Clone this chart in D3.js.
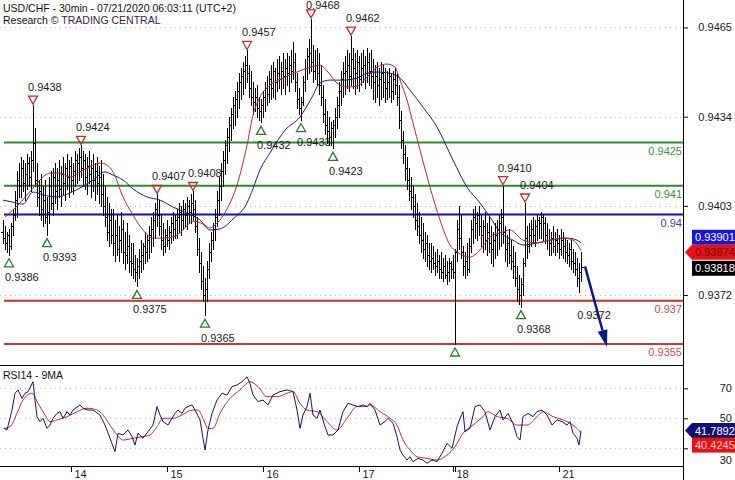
<!DOCTYPE html>
<html><head><meta charset="utf-8">
<script src="https://cdn.jsdelivr.net/npm/d3@7/dist/d3.min.js"></script>
<style>
body{margin:0;background:#fff;}
svg{display:block;font-family:"Liberation Sans",Arial,sans-serif;}
</style></head><body>
<svg id="c" width="735" height="480"></svg>
<script>
// ---------- DATA (prices in pips: 9394 = 0.9394) ----------
const firstOpen = 9394;
const barHigh = [9398,9396,9394,9395,9397, 9402,9408,9415,9418, 9420,9419,9418,9421,9420,9422, 9438,9430,9418,9412,
 9414,9410,9412,9406,9413,9415,9416, 9418,9416,9419,9417,9420,9418,9421,9419,9420,9418,9422,9421,9423, 9424,
 9422,9421,9420,9422,9419,9421,9418,9420,9417,9419, 9414,9410,9406,9404,9402, 9402,9398,9400,9396,9401,9398,9394,9397,9393,9390,
 9390,9386,9385,9388,9391,9390,9394,9393, 9396,9399,9401,9404,9407,9405, 9400,9397,9395,9398,9396,9399,9401,9400,
 9402,9404,9403,9405,9404,9406,9405,9407,9408,9405, 9399,9392,9387,9382,9378,9384,
 9390,9394,9397,9402,9408,9413,9418,9422,9426,9430,9434,9437,9441, 9443,9446,9449,9451,9453,9455,9457,9452,
 9450,9446,9444,9445,9441,9440, 9443,9446,9448,9450,9452,9453,9451,9454,9455,9453,9456,9454,9456,9455,9457,9460,9456,
 9449,9444,9441, 9448,9454,9458,9461,9468, 9459,9457,9458,9456,9452, 9445,9440,9436,9434,9432,9433, 9437,9441,9446,9450,9453,
 9455,9457,9456,9462,9458,9456,9457,9455, 9456,9457,9455,9458,9456,9457, 9454,9452,9453,9451,9453,9452,9451,
 9450,9451,9449,9450,9451,9449, 9445,9436,9429, 9424,9420,9416,9413,9410,9407,9404,9401, 9399,9397,9394,9393,9390,
 9390,9389,9387,9388,9386, 9387,9385,9386,9384,9385,9384, 9386, 9388, 9398,9403,9400, 9389,9387,9390,9392,
 9398,9402,9403,9401,9403, 9400,9398,9401,9397,9399, 9396,9394,9397,9398,9400,9402,9410, 9396,9393,9395,9391,9389,9387,
 9382,9379,9378,9385, 9404,9396, 9397,9398,9399,9398,9400,9399, 9401,9400,9399,9397,
 9395,9394,9396,9394,9395,9393,9395,9394,9392, 9391,9390,9391,9388,9387, 9385,9383,9387];
const barLow = [9390,9388,9387,9386,9388, 9393,9398,9399,9406, 9406,9408,9405,9409,9410,9408, 9415,9410,9403,9400,
 9398,9396,9397,9393,9397,9402,9400, 9404,9402,9406,9403,9407,9405,9409,9406,9408,9407,9410,9411,9412, 9413,
 9410,9409,9407,9411,9406,9408,9405,9407,9404,9403, 9400,9396,9391,9389,9390, 9386,9384,9386,9384,9387,9383,9381,9383,9380,9379,
 9378,9377,9375,9378,9380,9381,9383,9384, 9385,9387,9389,9392,9396,9393, 9388,9386,9387,9389,9388,9390,9391,9392,
 9392,9394,9393,9395,9396,9395,9397,9397,9398,9394, 9386,9380,9374,9370,9365,9370,
 9378,9384,9388,9391,9396,9400,9405,9410,9414,9418,9422,9426,9430, 9431,9434,9437,9440,9442,9444,9446,9441,
 9438,9435,9436,9434,9433,9432, 9434,9436,9438,9439,9440,9441,9440,9443,9444,9442,9444,9442,9445,9443,9446,9447,9443,
 9437,9435,9433, 9438,9443,9447,9449,9450, 9446,9447,9445,9442,9438, 9432,9428,9425,9424,9424,9423, 9427,9430,9434,9438,9441,
 9442,9444,9443,9445,9444,9442,9444,9443, 9445,9446,9444,9446,9445,9444, 9440,9439,9441,9438,9440,9441,9439,
 9440,9441,9439,9440,9442,9438, 9430,9423,9418, 9412,9409,9405,9402,9399,9395,9393,9390, 9387,9385,9384,9382,9381,
 9380,9381,9379,9380,9378, 9378,9377,9378,9376,9377,9378, 9378, 9355, 9384,9388,9385, 9379,9378,9379,9380,
 9387,9390,9392,9391,9393, 9389,9387,9388,9386,9387, 9383,9382,9385,9386,9388,9389,9390, 9384,9382,9383,9381,9378,9375,
 9370,9369,9368,9372, 9382,9385, 9387,9389,9390,9389,9391,9392, 9392,9391,9390,9388,
 9386,9386,9387,9386,9387,9385,9386,9385,9384, 9383,9382,9381,9380,9379, 9375,9373,9377];
const barClose = [9392,9390,9393,9389,9396, 9400,9405,9412,9410, 9416,9411,9414,9418,9413,9419, 9425,9412,9406,9408,
 9402,9405,9399,9401,9410,9404,9413, 9408,9412,9409,9414,9411,9416,9413,9417,9412,9415,9419,9418,9420, 9416,
 9419,9413,9417,9414,9416,9412,9415,9411,9413,9407, 9403,9399,9394,9398,9393, 9390,9393,9388,9391,9395,9387,9386,9389,9384,9383,
 9381,9380,9382,9384,9386,9389,9387,9391, 9393,9395,9398,9402,9400,9396, 9391,9389,9393,9391,9394,9397,9395,9398,
 9399,9401,9398,9402,9400,9403,9401,9404,9402,9396, 9388,9383,9377,9372,9374,9381,
 9387,9391,9395,9399,9405,9410,9415,9419,9424,9427,9431,9435,9438, 9440,9443,9446,9448,9450,9452,9449,9444,
 9441,9439,9441,9437,9436,9438, 9441,9444,9442,9447,9444,9450,9446,9449,9447,9450,9448,9451,9449,9452,9450,9453,9446,
 9440,9437,9439, 9446,9451,9455,9456,9453, 9450,9452,9449,9445,9441, 9435,9431,9429,9427,9430,9431, 9434,9438,9443,9447,9449,
 9450,9452,9448,9454,9451,9449,9453,9447, 9451,9452,9449,9453,9450,9448, 9446,9448,9445,9447,9449,9446,9444,
 9446,9448,9443,9447,9445,9441, 9433,9426,9421, 9416,9412,9408,9406,9403,9398,9396,9393, 9391,9388,9390,9386,9384,
 9385,9383,9382,9384,9381, 9380,9382,9379,9380,9383,9381, 9380, 9387, 9395,9392,9387, 9382,9384,9381,9389,
 9395,9399,9397,9400,9396, 9393,9396,9391,9394,9390, 9388,9391,9393,9395,9397,9399,9394, 9388,9390,9386,9384,9382,9378,
 9374,9372,9376,9383, 9392,9389, 9393,9395,9393,9396,9398,9397, 9399,9397,9393,9391,
 9390,9392,9389,9391,9390,9388,9391,9389,9387, 9386,9388,9384,9383,9381, 9378,9380,9381.8];

// moving averages on price: [bar index, pips]
const maFast = [[1,9399.1],[8.5,9404.0],[15,9409.2],[18.5,9412.0],[23.5,9414.4],[28.5,9414.4],[33.5,9413.0],[38.5,9414.8],[43.5,9416.5],[48.5,9417.9],
 [52,9417.2],[55,9414.8],[60,9406.1],[65,9399.8],[70,9394.6],[75,9391.8],[80,9391.8],[85,9392.2],[90,9394.6],[95,9397.7],
 [100,9396.7],[103.5,9395.3],[107,9397.0],[112,9401.9],[117,9410.2],[122,9424.1],[125,9434.5],[128.5,9440.8],[133.5,9445.0],[140,9447.4],
 [147,9449.5],[153.5,9451.2],[158.5,9451.9],[162.5,9449.5],[167,9445.7],[172,9444.3],[177,9444.6],[182,9447.7],[187,9451.2],[192,9452.3],
 [196,9451.2],[198.5,9446.7],[202,9439.8],[205,9431.8],[208.5,9422.4],[213.5,9409.5],[218.5,9398.1],[223.5,9389.4],[227,9387.0],[233.5,9385.2],
 [238.5,9387.7],[243.5,9392.2],[248.5,9393.6],[253.5,9394.6],[260,9391.1],[267,9390.1],[273.5,9391.1],[280,9391.8],[285,9391.1],[289,9387.4]];
const maSlow = [[0,9405.0],[5,9404.3],[10,9403.6],[15,9407.8],[20,9406.8],[27,9406.1],[33.5,9407.5],[38.5,9409.2],[45,9412.0],[51,9414.8],
 [55,9413.7],[60,9412.0],[65,9408.9],[72,9406.1],[78.5,9405.0],[85,9402.6],[92,9400.5],[98.5,9398.1],[103.5,9394.6],[108.5,9395.0],
 [115,9398.4],[122,9404.0],[125,9409.0],[128.5,9415.5],[133.5,9421.4],[141,9429.3],[148.5,9433.9],[154.5,9440.8],[158.5,9445.7],[163.5,9446.7],[170,9446.7],
 [177,9447.4],[182,9449.1],[187,9449.5],[193.5,9449.1],[198.5,9447.4],[203.5,9443.2],[210,9437.3],[217,9430.4],[225,9418.9],[232,9409.5],
 [238.5,9404.0],[243.5,9399.1],[248.5,9393.9],[255,9391.1],[260,9389.4],[267,9390.1],[273.5,9391.1],[282,9391.8],[287,9391.1],[289,9390.1]];

// RSI14 and its 9MA: [bar index, value]
const rsi = [[0.5,43.3],[2,42.2],[4.5,55.5],[6,66.7],[7.5,68.9],[9.5,63.3],[11,66.7],[12.5,67.8],[15,74.4],[16,62],[17,51],[18.5,47.8],[20,50],
 [22,43.3],[23.5,45.5],[25,50],[27,53.3],[28.5,54.4],[30,50],[32,54.4],[33.5,52.2],[35,55.5],[38.5,58.9],[40,56.7],[42.5,55.5],[45,55.5],
 [48.5,52.2],[51,45.5],[53.5,36.7],[56,27.8],[57.5,40],[60,38.9],[62.5,42.2],[64.5,37.8],[66,32.2],[67.5,40],[70,36.7],[72.5,41.1],[75,45.5],
 [77,57.8],[78.5,52.2],[80,47.8],[82.5,45.5],[84.5,50],[86,53.3],[87.5,55.5],[89.5,53.3],[91,56.7],[92.5,57.8],[94.5,58.9],[96,55.5],
 [98.5,48.9],[100,36.7],[101,28.9],[102.5,42.2],[104.5,53.3],[107,62.2],[109.5,66.7],[112,65.5],[114.5,71.1],[117,72.2],[119.5,74.4],
 [122,77.7],[123.5,73.3],[125,65.5],[127.5,61.1],[130,62.2],[132.5,58.9],[135,65.5],[138.5,67.8],[142,68.9],[145,67.8],[147,55.5],
 [148.5,43.3],[150,52.2],[152,57.8],[153.5,66.7],[155,52.2],[157,50],[158.5,55.5],[161,44.4],[162.5,38.9],[165,38.9],[167.5,42.2],
 [170,54.4],[172.5,60],[175,58.9],[177.5,57.8],[180,58.9],[182,57.8],[183.5,60],[186,55.5],[188.5,45.5],[191,47.8],[192.5,50],[195,46.7],
 [197,37.8],[198.5,28.9],[200,25.5],[202,22.2],[203.5,24.4],[205,21.1],[207.5,23.3],[210,22.2],[212,20],[214.5,22.2],[217,21.1],
 [219.5,26.7],[222,33.3],[224.5,30],[227,44.4],[228.5,50],[230,54.4],[231,41.1],[233.5,43.3],[236,57.8],[238.5,58.9],[241,54.4],
 [243.5,42.2],[246,51.1],[248.5,55.5],[250,48.9],[252.5,53.3],[255,46.7],[257,37.8],[258.5,35.5],[260,51.1],[262.5,53.3],[265,51.1],
 [267,54.4],[269.5,55.5],[272,52.2],[274.5,45.5],[277,48.9],[279.5,47.8],[282,45.5],[283.5,47.8],[285,40],[287,36.7],[288,32.2],[289,41.8]];
const rsiMa = [[0.5,43.3],[3.5,44.4],[7,53.3],[10,62.2],[14.5,66.7],[17.5,60],[21,52.2],[23.5,47.8],[27,48.9],[32,51.1],[37,54.4],[42,56.7],
 [47,55.5],[50,52.2],[53.5,45.5],[57,38.9],[60,35.5],[65,36.7],[70,37.8],[73.5,38.9],[77,44.4],[80,50],[85,50],[89.5,52.2],[94.5,55.5],
 [97.5,55.5],[100,50],[102.5,43.3],[105,43.3],[108.5,53.3],[113.5,63.3],[118.5,68.9],[123.5,74.4],[127.5,71.1],[132,64.4],[137,64.4],
 [142,66.7],[145,67.8],[148.5,60],[152,55.5],[157,54.4],[162,47.8],[167,42.2],[172,50],[177,57.8],[182,57.8],[183.5,58.9],[188.5,54.4],
 [193.5,50],[197,45.5],[200,35.5],[203.5,28.9],[207,24.4],[212,23.3],[217,22.2],[222,25.5],[226,31.1],[230,40],[235,45.5],[240,51.1],
 [242.5,54.4],[247,51.1],[252,50],[257,45.5],[262,45.5],[267,51.1],[270,54.4],[275,51.1],[280,48.9],[285,45.5],[289,40.4]];

const dayTickIdx = [34,82,130,178,225,278];
const dayTickLabels = ["14","15","16","17","18","21"];
const extraTickIdx = [226];
const priceTicks = [0.9465,0.9434,0.9403,0.9372];
const rsiTicks = [70,50,30];
const levels = [0.9425,0.941,0.94,0.937,0.9355];
const levelLabels = ["0.9425","0.941","0.94","0.937","0.9355"];
const highMarks = [[15,0.9438,"0.9438"],[39,0.9424,"0.9424"],[77,0.9407,"0.9407"],[95,0.9408,"0.9408"],[122,0.9457,"0.9457"],
 [154,0.9468,"0.9468"],[174,0.9462,"0.9462"],[250,0.9410,"0.9410"],[261,0.9404,"0.9404"]];
const lowMarks = [[3,0.9386,"0.9386"],[22,0.9393,"0.9393"],[67,0.9375,"0.9375"],[101,0.9365,"0.9365"],[129,0.9432,"0.9432"],
 [149,0.9433,"0.9433"],[165,0.9423,"0.9423"],[226,0.9355,""],[259,0.9368,"0.9368"]];
const arrowFrom = [291,0.9382], arrowTo = [302,0.9354];
const arrowLabel = [295.5,0.9372,"0.9372"];
const lastValues = {maSlow:"0.93901", maFast:"0.93874", close:"0.93818", rsi:"41.7892", rsiMa:"40.4245"};
const rsiLast = [41.7892, 40.4245];
const maFastLast = 0.93874;

// ---------- STYLES ----------
const levelStroke = ["#2c8c2c","#2c8c2c","#1212a6","#d02a2a","#bf3a3a"];
const levelText = ["#3e8e3e","#3e8e3e","#3a3ac4","#d04848","#c85050"];

// ---------- DRAW ----------
const svg = d3.select("#c");
const axisX = 683;
const x = d3.scaleLinear().domain([0,289]).range([3,581]);
const y = d3.scaleLinear().domain([0.9355,0.94]).range([344,214.5]);
const yR = d3.scaleLinear().domain([30,70]).range([448.3,388.3]);
const P = v => v/10000;

const defs = svg.append("defs");
defs.append("clipPath").attr("id","mc").append("rect").attr("x",0).attr("y",0).attr("width",axisX).attr("height",365);
defs.append("clipPath").attr("id","rc").append("rect").attr("x",0).attr("y",366).attr("width",axisX).attr("height",100);

const main = svg.append("g").attr("clip-path","url(#mc)");
// dotted grid
main.selectAll(".g").data(priceTicks).join("line")
  .attr("x1",0).attr("x2",axisX).attr("y1",d=>Math.round(y(d))+0.5).attr("y2",d=>Math.round(y(d))+0.5)
  .attr("stroke","#b8b8b8").attr("stroke-dasharray","1,4");

// levels
main.selectAll(".lv").data(levels).join("line")
  .attr("x1",4).attr("x2",axisX).attr("y1",d=>y(d)).attr("y2",d=>y(d))
  .attr("stroke",(d,i)=>levelStroke[i]).attr("stroke-width",2);
main.selectAll(".lvt").data(levels).join("text")
  .attr("x",axisX-1).attr("y",d=>y(d)+12).attr("text-anchor","end")
  .attr("font-size",11).attr("fill",(d,i)=>levelText[i]).text((d,i)=>levelLabels[i]);

// markers
const mk = main.append("g");
highMarks.forEach(([i,v,t])=>{
  const cx=x(i), yh=y(v);
  mk.append("path").attr("d",`M${cx-4.5},${yh-9}H${cx+4.5}L${cx},${yh-1}Z`)
    .attr("fill","none").attr("stroke","#b8312c").attr("stroke-width",1.3);
  mk.append("text").attr("x",cx-5).attr("y",Math.max(yh-14,9)).attr("font-size",11).attr("fill","#1a1a1a").text(t);
});
lowMarks.forEach(([i,v,t])=>{
  const cx=x(i), yl=y(v);
  mk.append("path").attr("d",`M${cx},${yl+4}L${cx+4.5},${yl+12}H${cx-4.5}Z`)
    .attr("fill","none").attr("stroke","#2a7c2a").attr("stroke-width",1.3);
  if(t) mk.append("text").attr("x",cx-4).attr("y",yl+26.5).attr("font-size",11).attr("fill","#1a1a1a").text(t);
});

// OHLC bars
const bars = barClose.map((c,i)=>({i,o:i?barClose[i-1]:firstOpen,h:barHigh[i],l:barLow[i],c}));
main.append("path").attr("fill","none").attr("stroke","#000").attr("shape-rendering","crispEdges")
  .attr("d",bars.map(b=>{
    const X=Math.round(x(b.i)), yh=Math.round(y(P(b.h))), yl=Math.round(y(P(b.l))),
          yo=Math.round(y(P(b.o))), yc=Math.round(y(P(b.c)));
    return `M${X+0.5},${yh}V${yl+1}M${X-2},${yo+0.5}H${X+1}M${X},${yc+0.5}H${X+3}`;
  }).join(""));

// moving averages
const maLine = d3.line().x(d=>x(d[0])).y(d=>y(P(d[1]))).curve(d3.curveMonotoneX);
main.append("path").datum(maSlow).attr("d",maLine).attr("fill","none").attr("stroke","#1c1c86").attr("stroke-width",1);
main.append("path").datum(maFast).attr("d",maLine).attr("fill","none").attr("stroke","#b42a2a").attr("stroke-width",1);

// forecast arrow
{
  const x1=x(arrowFrom[0]), y1=y(arrowFrom[1]), x2=x(arrowTo[0]), y2=y(arrowTo[1]);
  const ang=Math.atan2(y2-y1,x2-x1), L=17, Wd=5;
  const bx=x2-L*Math.cos(ang), by=y2-L*Math.sin(ang);
  main.append("line").attr("x1",x1).attr("y1",y1).attr("x2",bx).attr("y2",by)
    .attr("stroke","#0c1a82").attr("stroke-width",2.5);
  main.append("path").attr("fill","#0c1a82")
    .attr("d",`M${x2},${y2}L${bx+Wd*Math.sin(ang)},${by-Wd*Math.cos(ang)}L${bx-Wd*Math.sin(ang)},${by+Wd*Math.cos(ang)}Z`);
  main.append("text").attr("x",x(arrowLabel[0])).attr("y",y(arrowLabel[1])+24).attr("text-anchor","middle")
    .attr("font-size",11).attr("fill","#1a1a1a").text(arrowLabel[2]);
}

// title
svg.append("text").attr("x",3).attr("y",12).attr("font-size",10.5).attr("fill","#111")
  .text("USD/CHF - 30min - 07/21/2020 06:03:11 (UTC+2)");
const t2 = svg.append("text").attr("x",3).attr("y",24).attr("font-size",10.5).attr("fill","#111");
t2.append("tspan").text("Research © ");
t2.append("tspan").attr("fill","#3a2448").text("TRADING CENTRAL");

// RSI panel
const rp = svg.append("g").attr("clip-path","url(#rc)");
rp.selectAll(".rg").data(rsiTicks).join("line")
  .attr("x1",0).attr("x2",axisX).attr("y1",d=>Math.round(yR(d))+0.5).attr("y2",d=>Math.round(yR(d))+0.5)
  .attr("stroke","#b8b8b8").attr("stroke-dasharray","1,4");
rp.append("path").datum(rsiMa).attr("d",d3.line().x(d=>x(d[0])).y(d=>yR(d[1])).curve(d3.curveMonotoneX))
  .attr("fill","none").attr("stroke","#b83030").attr("stroke-width",1);
rp.append("path").datum(rsi).attr("d",d3.line().x(d=>x(d[0])).y(d=>yR(d[1])))
  .attr("fill","none").attr("stroke","#141464").attr("stroke-width",1);
svg.append("text").attr("x",3).attr("y",379).attr("font-size",10.5).attr("fill","#111").text("RSI14 - 9MA");

// frames
svg.append("line").attr("x1",0).attr("x2",axisX).attr("y1",365.5).attr("y2",365.5).attr("stroke","#000");
svg.append("line").attr("x1",0).attr("x2",axisX).attr("y1",466.5).attr("y2",466.5).attr("stroke","#000");
svg.append("line").attr("x1",axisX+0.5).attr("x2",axisX+0.5).attr("y1",0).attr("y2",480).attr("stroke","#000");

// right price axis
const pa = svg.append("g").attr("transform",`translate(${axisX},0)`)
  .call(d3.axisRight(y).tickValues(priceTicks).tickSize(5).tickFormat(d3.format(".4f")));
pa.select(".domain").remove();
pa.selectAll("text").attr("x",49).attr("text-anchor","end").attr("font-size",11).attr("fill","#1a1a1a").attr("font-family",null);
const ra = svg.append("g").attr("transform",`translate(${axisX},0)`)
  .call(d3.axisRight(yR).tickValues(rsiTicks).tickSize(5).tickFormat(d3.format("d")));
ra.select(".domain").remove();
ra.selectAll("text").attr("x",49).attr("text-anchor","end").attr("font-size",11).attr("fill","#1a1a1a").attr("font-family",null)
  .attr("dy",(d)=>d===30?"1.35em":"0.32em");

// bottom date axis
const xa = svg.append("g").attr("transform","translate(0,466)")
  .call(d3.axisBottom(x).tickValues(dayTickIdx.concat(extraTickIdx)).tickSize(6)
    .tickFormat(d=>{const k=dayTickIdx.indexOf(d);return k>=0?dayTickLabels[k]:"";}));
xa.select(".domain").remove();
xa.selectAll("text").attr("x",3).attr("y",4).attr("text-anchor","start").attr("font-size",11).attr("fill","#1a1a1a").attr("font-family",null);

// value badges
const badge = (cy, fill, txt, tcol, arrow) => {
  const g = svg.append("g");
  if (arrow) g.append("path").attr("d",`M${axisX+2},${cy}L${axisX+9},${cy-7.5}H735V${cy+7.5}H${axisX+9}Z`).attr("fill",fill);
  else g.append("rect").attr("x",axisX+9).attr("y",cy-7.5).attr("width",735-axisX-9).attr("height",15).attr("fill",fill);
  g.append("text").attr("x",axisX+12).attr("y",cy+4).attr("font-size",11).attr("fill",tcol).text(txt);
};
const cRed = y(maFastLast)+1.5;
badge(cRed-15, "#1616d8", lastValues.maSlow, "#fff", false);
badge(cRed, "#e41414", lastValues.maFast, "#7a0a0a", true);
badge(cRed+16, "#000", lastValues.close, "#fff", false);
const cR = yR(rsiLast[0]);
badge(cR, "#10106e", lastValues.rsi, "#fff", true);
badge(cR+14.5, "#e41414", lastValues.rsiMa, "#ffd0d0", false);
</script>
</body></html>
